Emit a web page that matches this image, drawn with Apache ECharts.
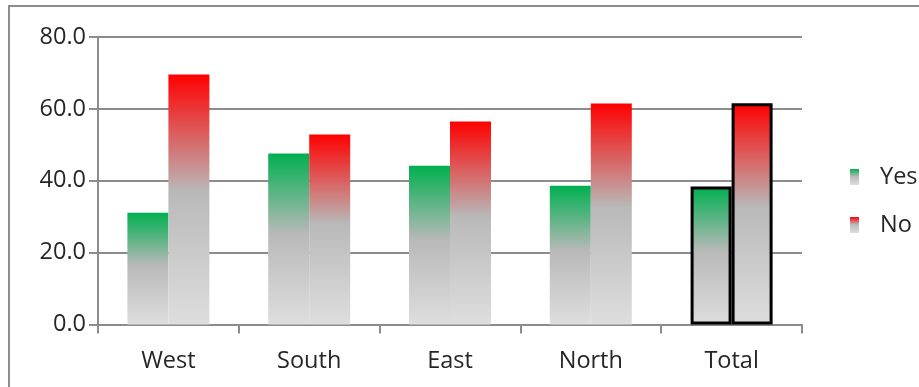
<!DOCTYPE html>
<html>
<head>
<meta charset="utf-8">
<script src="https://cdn.jsdelivr.net/npm/echarts@6/dist/echarts.min.js"></script>
<style>
  html, body { margin: 0; padding: 0; background: #ffffff; }
  #chart { width: 919px; height: 387px; }
</style>
</head>
<body>
<div id="chart"></div>
<script>
// Survey answers by region, in percent
const categories = ['West', 'South', 'East', 'North', 'Total'];
const yesValues = [31.1, 47.6, 44.2, 38.6, 38.4];
const noValues = [69.6, 52.9, 56.5, 61.5, 61.6];
const yTicks = [0, 20, 40, 60, 80];

const FONT = 'Open Sans';
const FONT_SIZE = 23.5;
const TEXT_COLOR = '#262626';
const GRID_GRAY = '#8c8c8c';

// Vertical fade: strong colour at the top, grey through the lower half
function fade(top) {
  return new echarts.graphic.LinearGradient(0, 0, 0, 1, [
    { offset: 0, color: top },
    { offset: 0.47, color: '#b9b9b9' },
    { offset: 1, color: '#dedede' }
  ]);
}

// The "Total" column is outlined in black
function withTotalOutline(values) {
  return values.map((v, i) => categories[i] === 'Total'
    ? { value: v, itemStyle: { borderColor: '#000000', borderWidth: 3 } }
    : v);
}

const chart = echarts.init(document.getElementById('chart'), null, { renderer: 'canvas' });

chart.setOption({
  animation: false,
  backgroundColor: '#ffffff',
  textStyle: { fontFamily: FONT },
  graphic: [{
    type: 'rect',
    silent: true,
    shape: { x: 9, y: 6, width: 1200, height: 800 },
    style: { fill: 'none', stroke: GRID_GRAY, lineWidth: 2 }
  }],
  grid: { left: 98, right: 117, top: 37, bottom: 62.5 },
  legend: {
    orient: 'vertical',
    left: 845,
    top: 160,
    itemWidth: 9,
    itemHeight: 16,
    itemGap: 24,
    icon: 'rect',
    textStyle: { fontFamily: FONT, fontSize: FONT_SIZE, color: TEXT_COLOR, padding: [6, 0, 0, 16] },
    data: ['Yes', 'No']
  },
  xAxis: {
    type: 'category',
    data: categories,
    axisLine: { lineStyle: { color: GRID_GRAY, width: 2 } },
    axisTick: { show: true, length: 9, lineStyle: { color: GRID_GRAY, width: 2 } },
    axisLabel: { fontFamily: FONT, fontSize: FONT_SIZE, color: TEXT_COLOR, margin: 25 }
  },
  yAxis: {
    type: 'value',
    min: yTicks[0],
    max: yTicks[yTicks.length - 1],
    interval: 20,
    axisLine: { show: true, lineStyle: { color: GRID_GRAY, width: 2 } },
    axisTick: { show: true, length: 9, lineStyle: { color: GRID_GRAY, width: 2 } },
    axisLabel: {
      fontFamily: FONT, fontSize: FONT_SIZE, color: TEXT_COLOR, margin: 12,
      padding: [7, 0, 0, 0],
      formatter: v => v.toFixed(1)
    },
    splitLine: { lineStyle: { color: GRID_GRAY, width: 2 } }
  },
  series: [
    {
      name: 'Yes',
      type: 'bar',
      barWidth: 41,
      barGap: '0%',
      itemStyle: { color: fade('#00b050') },
      data: withTotalOutline(yesValues)
    },
    {
      name: 'No',
      type: 'bar',
      barWidth: 41,
      barGap: '0%',
      itemStyle: { color: fade('#ff0000') },
      data: withTotalOutline(noValues)
    }
  ]
});
</script>
</body>
</html>
